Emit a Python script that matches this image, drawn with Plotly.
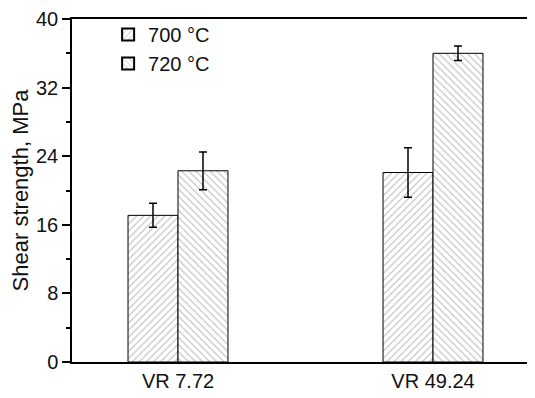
import plotly.graph_objects as go

categories = ["VR 7.72", "VR 49.24"]
series_names = ["700 °C", "720 °C"]
values_700 = [17.1, 22.1]
errors_700 = [1.4, 2.9]
values_720 = [22.3, 36.0]
errors_720 = [2.2, 0.85]
y_ticks = [0, 8, 16, 24, 32, 40]

FONT = "Arial, Liberation Sans, sans-serif"

fig = go.Figure()
fig.add_trace(go.Bar(
    x=categories, y=values_700, name=series_names[0],
    error_y=dict(type="data", array=errors_700, color="black", thickness=1.5, width=4),
    marker=dict(color="white", line=dict(color="black", width=1),
                pattern=dict(shape="/", fgcolor="#707070", bgcolor="white", size=5, solidity=0.2)),
))
fig.add_trace(go.Bar(
    x=categories, y=values_720, name=series_names[1],
    error_y=dict(type="data", array=errors_720, color="black", thickness=1.5, width=4),
    marker=dict(color="white", line=dict(color="black", width=1),
                pattern=dict(shape="\\", fgcolor="#707070", bgcolor="white", size=5, solidity=0.2)),
))

# the page adds an 8 px body margin, so the figure is shifted by 8 px
fig.update_layout(
    width=527, height=390,
    margin=dict(l=64, r=0, t=8, b=36),
    paper_bgcolor="white", plot_bgcolor="white",
    barmode="group", bargap=0.608, bargroupgap=0,
    font=dict(family=FONT, size=20, color="#111111"),
    showlegend=True,
    legend=dict(x=0.078, y=1.012, xanchor="left", yanchor="top",
                bgcolor="rgba(0,0,0,0)", font=dict(size=20),
                tracegroupgap=0, itemsizing="constant"),
    xaxis=dict(
        type="category", range=[-0.4157, 1.4],
        showline=True, linecolor="black", linewidth=1.5, mirror=True,
        ticks="", showgrid=False, zeroline=False,
        tickfont=dict(size=20), ticklabeloverflow="allow",
    ),
    yaxis=dict(
        range=[0, 40], tickvals=y_ticks,
        showline=True, linecolor="black", linewidth=1.5, mirror=False,
        ticks="outside", ticklen=8, tickwidth=1.5, tickcolor="black",
        minor=dict(dtick=4, ticks="outside", ticklen=4, tickwidth=1.5, tickcolor="black"),
        showgrid=False, zeroline=False,
        tickfont=dict(size=20), ticklabeloverflow="allow",
        title=dict(text="Shear strength, MPa", font=dict(size=22), standoff=6),
    ),
)

fig.write_html("out.html")
